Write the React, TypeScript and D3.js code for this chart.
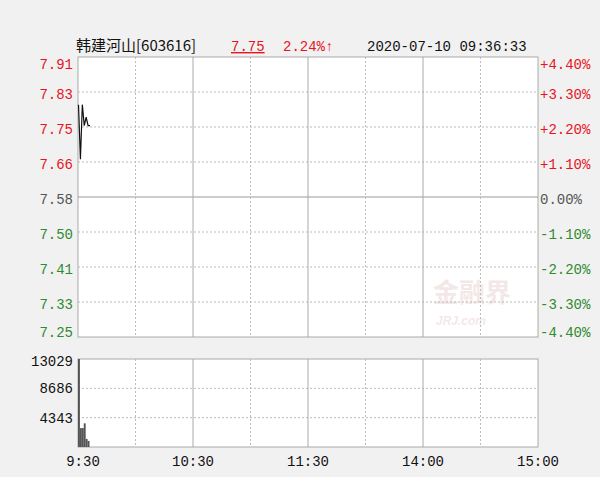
import React from "react";
import * as d3 from "d3";

const stockName = "韩建河山[603616]";
const lastPrice = "7.75";
const changePct = "2.24%↑";
const timeStamp = "2020-07-10 09:36:33";
const prevClose = 7.58;
const priceLabels = ["7.91", "7.83", "7.75", "7.66", "7.58", "7.50", "7.41", "7.33", "7.25"];
const pctLabels = ["+4.40%", "+3.30%", "+2.20%", "+1.10%", "0.00%", "-1.10%", "-2.20%", "-3.30%", "-4.40%"];
const pctLevels = [4.4, 3.3, 2.2, 1.1, 0, -1.1, -2.2, -3.3, -4.4];
const volLabels = ["13029", "8686", "4343"];
const volLevels = [13029, 8686, 4343];
const timeLabels = ["9:30", "10:30", "11:30", "14:00", "15:00"];
const timeMinutes = [0, 60, 120, 180, 240];
const minutes = [0, 1, 2, 3, 4, 5, 6];
const prices = [7.8, 7.67, 7.8, 7.75, 7.77, 7.75, 7.75];
const volumes = [13029, 2800, 2800, 3500, 1200, 900];

const RED = "#e8141c";
const GREEN = "#2e8b2e";
const GRAY = "#555";
const MONO = "'Liberation Mono', 'DejaVu Sans Mono', monospace";

export default function App() {
  const L = 78, R = 538;
  const x = d3.scaleLinear().domain([0, 240]).range([L, R]);
  const yPct = d3.scaleLinear().domain([-4.4, 4.4]).range([337, 57]);
  const yVol = d3.scaleLinear().domain([0, 13029]).range([447, 359]);
  const pricePct = (p: number) => (p / prevClose - 1) * 100;
  const line = d3
    .line<number>()
    .x((_, i) => x(minutes[i]) + 0.5)
    .y((p) => yPct(pricePct(p)));
  const gridMins = d3.range(30, 240, 30);
  const solidMins = [60, 120, 180];
  const bw = (R - L) / 240;
  const labelColor = (v: number) => (v > 0 ? RED : v < 0 ? GREEN : GRAY);

  return (
    <svg
      width={600}
      height={477}
      style={{ position: "fixed", left: 0, top: 0, background: "#f1f1f1" }}
    >
      {/* header */}
      <text x={76} y={51} fontFamily="'Noto Sans CJK SC', sans-serif" fontSize={15} fill="#111">
        {stockName}
      </text>
      <text x={231} y={51} fontFamily={MONO} fontSize={14} fill={RED} textDecoration="underline">
        {lastPrice}
      </text>
      <text x={283} y={51} fontFamily={MONO} fontSize={14} fill={RED}>
        {changePct}
      </text>
      <text x={367} y={51} fontFamily={MONO} fontSize={14} fill="#111">
        {timeStamp}
      </text>

      {/* main panel */}
      <rect x={L} y={57} width={R - L} height={280} fill="#fff" stroke="#aaa" />
      {/* watermark */}
      <g opacity={0.13}>
        <text x={433} y={302} fontFamily="'Noto Sans CJK SC', sans-serif" fontWeight="bold" fontSize={26} fill="#b05050">
          金融界
        </text>
        <text x={436} y={325} fontFamily="Arial, sans-serif" fontWeight="bold" fontStyle="italic" fontSize={12} fill="#b05050">
          JRJ.com
        </text>
      </g>
      {pctLevels.slice(1, -1).map((p) => (
        <line
          key={"h" + p}
          x1={L}
          x2={R}
          y1={yPct(p)}
          y2={yPct(p)}
          stroke={p === 0 ? "#999" : "#bbb"}
          strokeDasharray={p === 0 ? undefined : "2,2"}
        />
      ))}
      {gridMins.map((m) => (
        <line
          key={"v" + m}
          x1={x(m)}
          x2={x(m)}
          y1={57}
          y2={337}
          stroke={solidMins.includes(m) ? "#aaa" : "#bbb"}
          strokeDasharray={solidMins.includes(m) ? undefined : "2,2"}
        />
      ))}
      <path d={line(prices) || ""} fill="none" stroke="#111" strokeWidth={1.2} />

      {priceLabels.map((t, i) => {
        const yy = yPct(pctLevels[i]) + (i === 0 ? 8 : i === priceLabels.length - 1 ? -4 : 3);
        return (
          <text key={"pl" + t} x={73} y={yy} dominantBaseline="central" textAnchor="end" fontFamily={MONO} fontSize={14} fill={labelColor(pctLevels[i])}>
            {t}
          </text>
        );
      })}
      {pctLabels.map((t, i) => {
        const yy = yPct(pctLevels[i]) + (i === 0 ? 8 : i === pctLabels.length - 1 ? -4 : 3);
        return (
          <text key={"pr" + t} x={540} y={yy} dominantBaseline="central" fontFamily={MONO} fontSize={14} fill={labelColor(pctLevels[i])}>
            {t}
          </text>
        );
      })}

      {/* volume panel */}
      <rect x={L} y={359} width={R - L} height={88} fill="#fff" stroke="#aaa" />
      {volLevels.slice(1).map((v) => (
        <line key={"vh" + v} x1={L} x2={R} y1={yVol(v)} y2={yVol(v)} stroke="#bbb" strokeDasharray="2,2" />
      ))}
      {gridMins.map((m) => (
        <line
          key={"vv" + m}
          x1={x(m)}
          x2={x(m)}
          y1={359}
          y2={447}
          stroke={solidMins.includes(m) ? "#aaa" : "#bbb"}
          strokeDasharray={solidMins.includes(m) ? undefined : "2,2"}
        />
      ))}
      {volumes.map((v, i) => (
        <rect key={"b" + i} x={x(minutes[i])} y={yVol(v)} width={bw} height={yVol(0) - yVol(v)} fill="#555" />
      ))}
      {volLabels.map((t, i) => (
        <text key={"vl" + t} x={73} y={yVol(volLevels[i]) + (i === 0 ? 3 : 1)} dominantBaseline="central" textAnchor="end" fontFamily={MONO} fontSize={14} fill="#111">
          {t}
        </text>
      ))}
      {timeLabels.map((t, i) => (
        <text key={"t" + t} x={i === 0 ? x(timeMinutes[i]) + 5 : x(timeMinutes[i])} y={462} dominantBaseline="central" textAnchor="middle" fontFamily={MONO} fontSize={14} fill="#111">
          {t}
        </text>
      ))}
    </svg>
  );
}
